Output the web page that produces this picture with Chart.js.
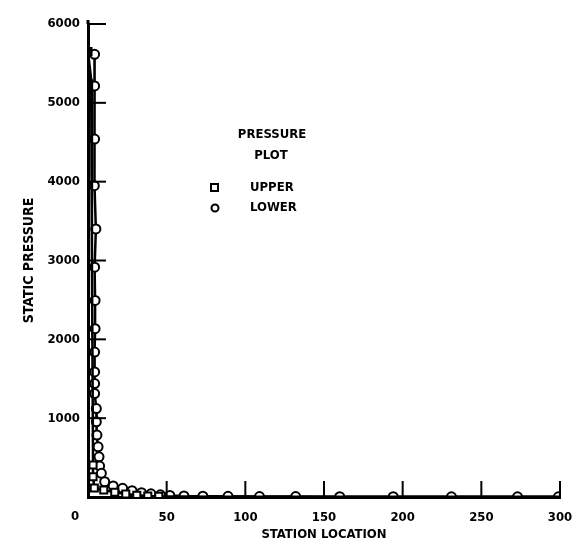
<!DOCTYPE html>
<html>
<head>
<meta charset="utf-8">
<script src="https://cdn.jsdelivr.net/npm/chart.js@4/dist/chart.umd.min.js"></script>
<style>
  html, body { margin: 0; padding: 0; background: #fff; }
  #wrap { width: 575px; height: 546px; }
</style>
</head>
<body>
<div id="wrap"><canvas id="plot"></canvas></div>
<script>
// station location / static pressure
const upperX = [0, 2, 2.5, 3, 3.2, 3.2, 4, 10, 17, 24, 31, 38, 45, 60, 80, 120, 180, 240, 300];
const upperY = [5650, 5300, 3000, 1200, 405, 257, 114, 89, 60, 38, 22, 13, 8, 5, 4, 3, 2, 2, 2];

const lowerX = [4.2, 4.2, 4.2, 4, 5, 4.2, 4.5, 4.5, 4.2, 4.2, 4.2, 4.2, 5.3, 5.3, 5.7, 6.4, 7, 7.4, 8.5,
                10.6, 16, 22, 28, 34, 40, 46, 52, 61, 73, 89, 109, 132, 160, 194, 231, 273, 299];
const lowerY = [5616, 5215, 4540, 3949, 3401, 2915, 2494, 2135, 1839, 1586, 1439, 1312, 1122, 953, 785, 637, 510, 392, 300,
                194, 140, 110, 80, 55, 40, 28, 20, 13, 10, 8, 6, 5, 4, 3, 2, 2, 2];

const xTicks = [0, 50, 100, 150, 200, 250, 300];
const yTicks = [1000, 2000, 3000, 4000, 5000, 6000];

const FONT = '"DejaVu Sans Condensed", "DejaVu Sans", sans-serif';

function pairs(xs, ys) {
    return xs.map((x, i) => ({ x: x, y: ys[i] }));
}

// tick marks drawn inward + legend block
const decorations = {
    id: 'decorations',
    afterDraw(chart) {
        const ctx = chart.ctx;
        const xs = chart.scales.x, ys = chart.scales.y;
        const a = chart.chartArea;
        ctx.save();
        ctx.strokeStyle = '#000';
        ctx.lineWidth = 2;
        xTicks.slice(1).forEach(v => {
            const px = xs.getPixelForValue(v);
            ctx.beginPath();
            ctx.moveTo(px, a.bottom);
            ctx.lineTo(px, a.bottom - 16);
            ctx.stroke();
        });
        yTicks.forEach(v => {
            const py = ys.getPixelForValue(v);
            ctx.beginPath();
            ctx.moveTo(a.left, py);
            ctx.lineTo(a.left + 18, py);
            ctx.stroke();
        });
        // axis runs a little past the top tick
        ctx.lineWidth = 3;
        ctx.beginPath();
        ctx.moveTo(a.left, a.top);
        ctx.lineTo(a.left, a.top - 4);
        ctx.stroke();

        ctx.fillStyle = '#000';
        ctx.font = 'bold 13px ' + FONT;
        ctx.textAlign = 'center';
        ctx.textBaseline = 'middle';
        // origin label sits left of the axis in the original
        ctx.fillText('0', xs.getPixelForValue(0) - 13, a.bottom + 20);

        // legend
        ctx.fillText('PRESSURE', 272, 135);
        ctx.fillText('PLOT', 271, 156);
        ctx.textAlign = 'left';
        ctx.fillText('UPPER', 250, 188);
        ctx.fillText('LOWER', 250, 208);
        ctx.lineWidth = 2;
        ctx.fillStyle = '#fff';
        ctx.beginPath();
        ctx.rect(211, 184, 7, 7);
        ctx.fill();
        ctx.stroke();
        ctx.beginPath();
        ctx.arc(215, 208, 3.5, 0, Math.PI * 2);
        ctx.fill();
        ctx.stroke();
        ctx.restore();
    }
};

new Chart(document.getElementById('plot'), {
    type: 'scatter',
    data: {
        datasets: [{
            label: 'UPPER',
            data: pairs(upperX, upperY),
            showLine: true,
            borderColor: '#000',
            borderWidth: 2.5,
            pointStyle: 'rect',
            pointRadius: c => (c.dataIndex > 0 && (c.raw.y > 500 || c.raw.x > 50)) ? 0 : 5,
            pointBackgroundColor: c => c.dataIndex === 0 ? '#000' : '#fff',
            pointBorderColor: '#000',
            pointBorderWidth: 2
        }, {
            label: 'LOWER',
            data: pairs(lowerX, lowerY),
            showLine: true,
            borderColor: '#000',
            borderWidth: 2.5,
            pointStyle: 'circle',
            pointRadius: 4.5,
            pointBackgroundColor: '#fff',
            pointBorderColor: '#000',
            pointBorderWidth: 2
        }]
    },
    options: {
        responsive: true,
        maintainAspectRatio: false,
        animation: false,
        layout: { padding: { top: 24, right: 15 } },
        plugins: {
            legend: { display: false },
            tooltip: { enabled: false }
        },
        scales: {
            x: {
                type: 'linear',
                min: 0, max: 300,
                afterFit: s => { s.height = 49; s.paddingRight = 0; s.paddingLeft = 0; },
                afterBuildTicks: s => { s.ticks = xTicks.map(v => ({ value: v })); },
                grid: { display: false, drawTicks: false },
                border: { display: true, color: '#000', width: 3 },
                ticks: {
                    color: '#000', padding: 13,
                    font: { family: FONT, size: 13, weight: 'bold' },
                    callback: v => v === 0 ? '' : String(v)
                },
                title: {
                    display: true, text: 'STATION LOCATION', color: '#000',
                    padding: { top: 6 },
                    font: { family: FONT, size: 13, weight: 'bold' }
                }
            },
            y: {
                type: 'linear',
                min: 0, max: 6000,
                afterFit: s => { s.width = 88; },
                afterBuildTicks: s => { s.ticks = yTicks.map(v => ({ value: v })); },
                grid: { display: false, drawTicks: false },
                border: { display: true, color: '#000', width: 3 },
                ticks: {
                    color: '#000', padding: 8,
                    font: { family: FONT, size: 13, weight: 'bold' },
                    callback: v => String(v)
                },
                title: {
                    display: true, text: 'STATIC PRESSURE', color: '#000',
                    padding: { top: 21, bottom: 0 },
                    font: { family: FONT, size: 14, weight: 'bold' }
                }
            }
        }
    },
    plugins: [decorations]
});
</script>
</body>
</html>
